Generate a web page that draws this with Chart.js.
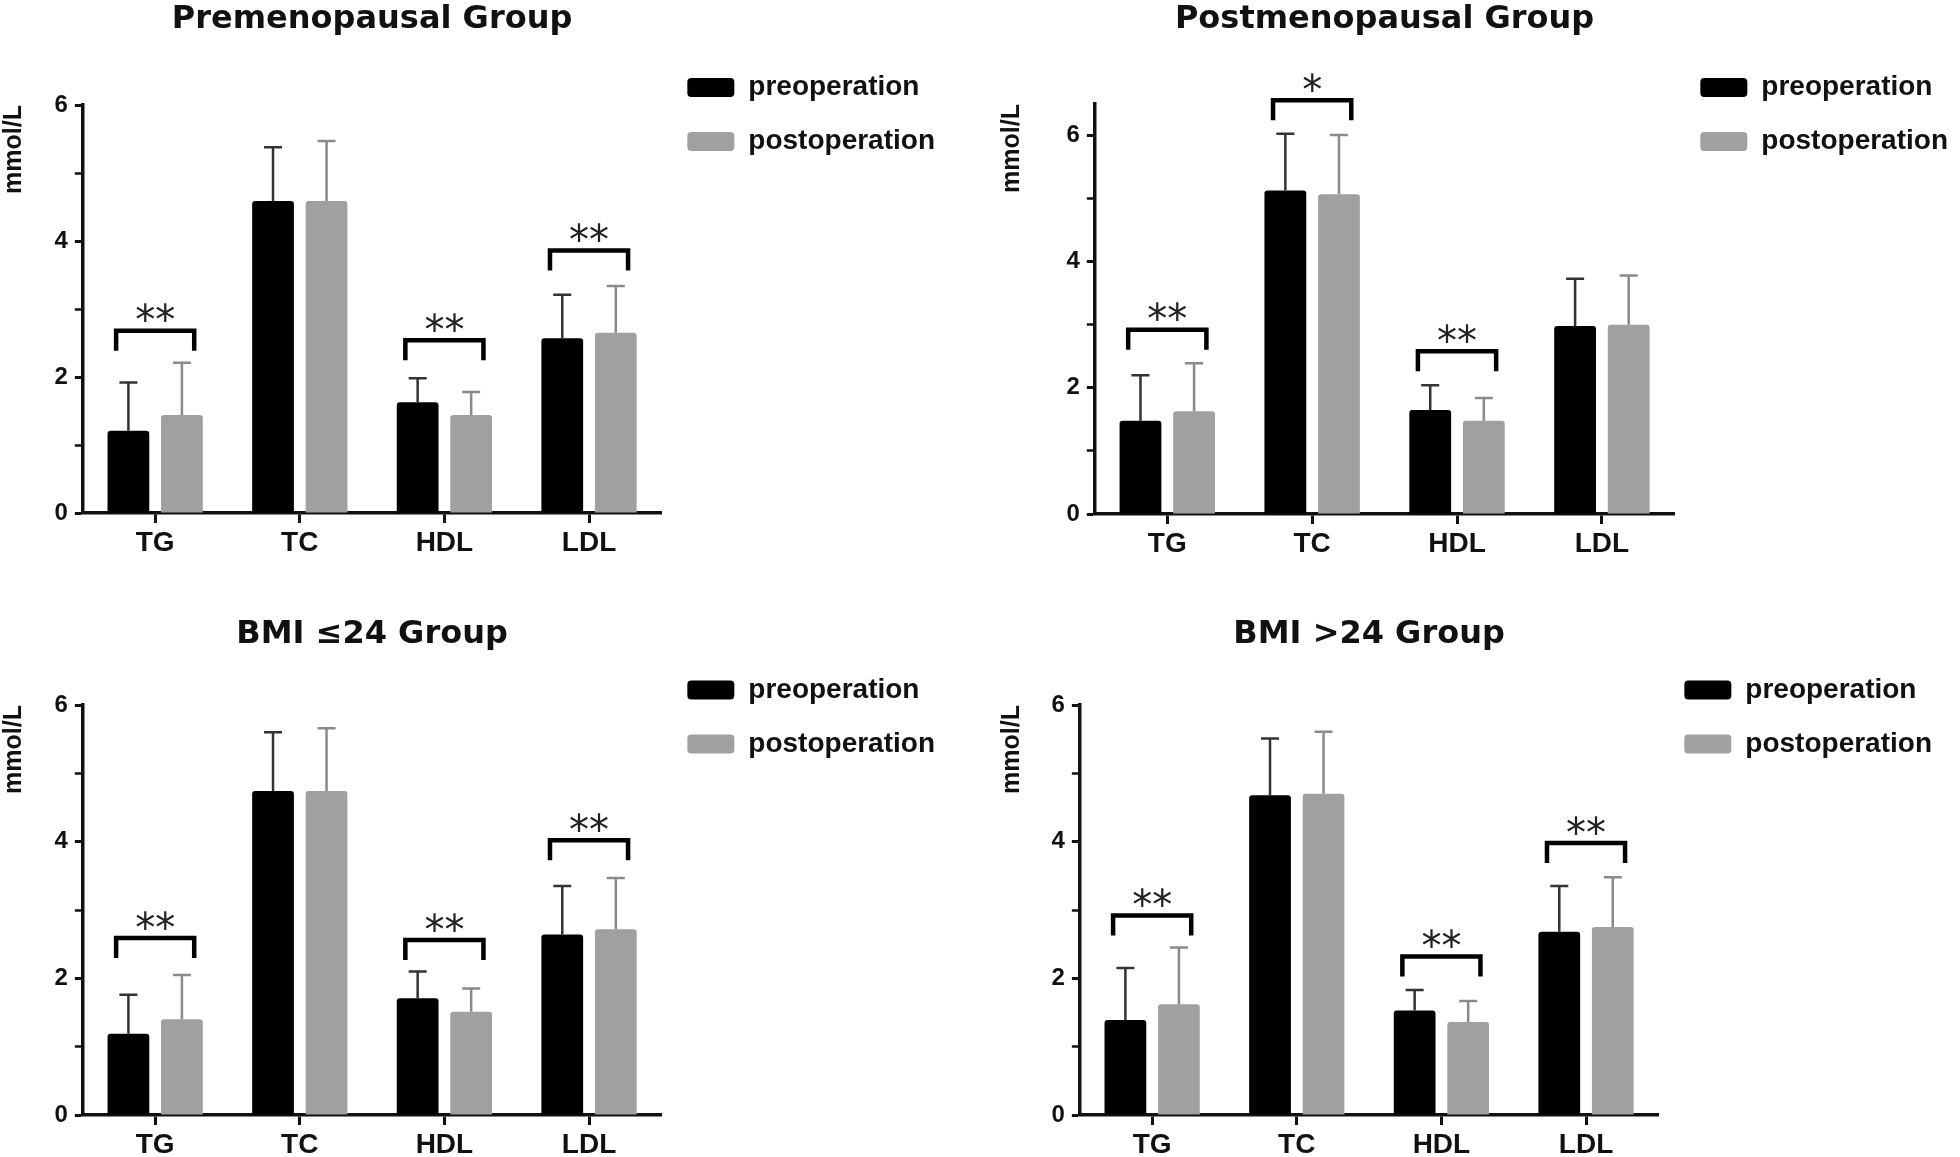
<!DOCTYPE html>
<html>
<head>
<meta charset="utf-8">
<script src="https://cdn.jsdelivr.net/npm/chart.js@4.4.1/dist/chart.umd.min.js"></script>
<style>
  html, body { margin: 0; padding: 0; background: #fff; overflow: hidden; }
  body { width: 1960px; height: 1157px; position: relative; }
  canvas { position: absolute; }
</style>
</head>
<body>
<canvas id="panelA" width="980" height="600" style="left:0;top:0"></canvas>
<canvas id="panelB" width="980" height="600" style="left:980px;top:0"></canvas>
<canvas id="panelC" width="980" height="600" style="left:0;top:578px"></canvas>
<canvas id="panelD" width="980" height="600" style="left:980px;top:578px"></canvas>
<script>
const categories = ['TG', 'TC', 'HDL', 'LDL'];
const seriesNames = ['preoperation', 'postoperation'];
const yTitle = 'mmol/L';

// Premenopausal Group
const preMeanA = [1.21, 4.59, 1.63, 2.57];
const preSdA = [0.71, 0.79, 0.35, 0.64];
const postMeanA = [1.44, 4.59, 1.44, 2.65];
const postSdA = [0.77, 0.88, 0.34, 0.69];
const marksA = ['**', '', '**', '**'];
const bracketA = [2.68, 0, 2.54, 3.86];

// Postmenopausal Group
const preMeanB = [1.48, 5.13, 1.65, 2.98];
const preSdB = [0.72, 0.90, 0.39, 0.75];
const postMeanB = [1.63, 5.07, 1.48, 3.00];
const postSdB = [0.76, 0.94, 0.36, 0.78];
const marksB = ['**', '*', '**', ''];
const bracketB = [2.92, 6.56, 2.58, 0];

// BMI <=24 Group
const preMeanC = [1.19, 4.74, 1.71, 2.64];
const preSdC = [0.57, 0.86, 0.39, 0.71];
const postMeanC = [1.40, 4.74, 1.51, 2.72];
const postSdC = [0.65, 0.92, 0.34, 0.75];
const marksC = ['**', '', '**', '**'];
const bracketC = [2.59, 0, 2.56, 4.02];

// BMI >24 Group
const preMeanD = [1.39, 4.68, 1.53, 2.68];
const preSdD = [0.76, 0.83, 0.30, 0.67];
const postMeanD = [1.62, 4.70, 1.36, 2.75];
const postSdD = [0.83, 0.91, 0.31, 0.73];
const marksD = ['**', '', '**', '**'];
const bracketD = [2.92, 0, 2.32, 3.98];

Chart.defaults.font.family = '"Liberation Sans", Arial, sans-serif';
Chart.defaults.color = '#111';

// error bars (mean + SD) and significance brackets
const annotate = {
    id: 'annotate',
    afterDatasetsDraw(chart, args, opts) {
        const ctx = chart.ctx;
        const xs = chart.scales.x;
        const ys = chart.scales.y;

        chart.data.datasets.forEach((ds, di) => {
            const meta = chart.getDatasetMeta(di);
            meta.data.forEach((bar, i) => {
                const top = ys.getPixelForValue(ds.data[i] + ds.sd[i]);
                ctx.save();
                ctx.strokeStyle = ds.whiskerColor;
                ctx.lineWidth = 2.5;
                ctx.beginPath();
                ctx.moveTo(bar.x, bar.y);
                ctx.lineTo(bar.x, top);
                ctx.moveTo(bar.x - 9, top);
                ctx.lineTo(bar.x + 9, top);
                ctx.stroke();
                ctx.restore();
            });
        });

        const half = xs.width / categories.length * 0.27;
        opts.marks.forEach((m, i) => {
            if (!m) return;
            const cx = xs.getPixelForValue(i);
            const yb = ys.getPixelForValue(opts.levels[i]);
            ctx.save();
            ctx.strokeStyle = '#000';
            ctx.lineWidth = 4.5;
            ctx.lineJoin = 'miter';
            ctx.beginPath();
            ctx.moveTo(cx - half, yb + 20);
            ctx.lineTo(cx - half, yb);
            ctx.lineTo(cx + half, yb);
            ctx.lineTo(cx + half, yb + 20);
            ctx.stroke();

            ctx.font = '40px "DejaVu Sans"';
            ctx.fillStyle = '#222';
            ctx.textAlign = 'center';
            ctx.textBaseline = 'alphabetic';
            const mt = ctx.measureText(m);
            const starMid = (mt.actualBoundingBoxAscent - mt.actualBoundingBoxDescent) / 2;
            ctx.fillText(m, cx, yb - 18 + starMid);
            ctx.restore();
        });
    }
};

function makePanel(id, title, preMean, preSd, postMean, postSd, marks, levels, setup) {
    const ctx = document.getElementById(id).getContext('2d');
    return new Chart(ctx, {
        type: 'bar',
        data: {
            labels: categories,
            datasets: [{
                label: seriesNames[0],
                data: preMean,
                sd: preSd,
                whiskerColor: '#333',
                backgroundColor: '#000000',
                borderWidth: 0,
                borderRadius: 3
            }, {
                label: seriesNames[1],
                data: postMean,
                sd: postSd,
                whiskerColor: '#8a8a8a',
                backgroundColor: '#a0a0a0',
                borderWidth: 0,
                borderRadius: 3
            }]
        },
        options: {
            responsive: false,
            animation: false,
            categoryPercentage: 0.74,
            barPercentage: 0.78,
            layout: {
                padding: setup.padding
            },
            plugins: {
                tooltip: { enabled: false },
                title: {
                    display: true,
                    text: title,
                    fullSize: false,
                    color: '#111',
                    font: { family: '"DejaVu Sans"', size: 32, weight: 'bold', lineHeight: 1 },
                    padding: setup.titlePad
                },
                legend: {
                    position: 'right',
                    align: 'start',
                    fullSize: true,
                    maxWidth: 400,
                    title: {
                        display: true,
                        text: ' ',
                        font: { size: 10, lineHeight: 1 },
                        padding: { top: setup.legendTop, bottom: 0 }
                    },
                    labels: {
                        boxWidth: 47,
                        boxHeight: 19,
                        padding: 26,
                        useBorderRadius: true,
                        borderRadius: 4,
                        color: '#111',
                        font: { size: 28, weight: 'bold', lineHeight: 1 }
                    }
                },
                annotate: {
                    marks: marks,
                    levels: levels
                }
            },
            scales: {
                x: {
                    grid: {
                        display: true,
                        drawOnChartArea: false,
                        drawTicks: true,
                        offset: false,
                        tickLength: 10,
                        tickWidth: 3,
                        tickColor: '#111'
                    },
                    border: { display: true, color: '#111', width: 3.5 },
                    ticks: {
                        padding: 6,
                        color: '#111',
                        font: { size: 28, weight: 'bold', lineHeight: 1 }
                    }
                },
                y: {
                    min: 0,
                    max: setup.yMax,
                    grid: {
                        display: true,
                        drawOnChartArea: false,
                        drawTicks: true,
                        tickLength: 8,
                        tickWidth: c => (c.tick && c.tick.value % 2 === 0) ? 3 : 2.5,
                        tickColor: '#111'
                    },
                    border: { display: true, color: '#111', width: 3.5 },
                    ticks: {
                        stepSize: 1,
                        includeBounds: false,
                        autoSkip: false,
                        padding: 7,
                        color: '#111',
                        font: { size: 24, weight: 'bold', lineHeight: 1 },
                        callback: v => (v % 2 === 0 ? v : '')
                    },
                    title: {
                        display: true,
                        text: yTitle,
                        align: 'end',
                        color: '#111',
                        font: { size: 25, weight: 'bold', lineHeight: 1.1 },
                        padding: { top: 0, bottom: setup.yTitlePad }
                    }
                }
            }
        },
        plugins: [annotate]
    });
}

makePanel('panelA', 'Premenopausal Group', preMeanA, preSdA, postMeanA, postSdA, marksA, bracketA, {
    padding: { left: 0, right: 35, top: 0, bottom: 37 },
    titlePad: { top: 3.5, bottom: 69.5 },
    legendTop: 37.5,
    yTitlePad: 20,
    yMax: 6
});

makePanel('panelB', 'Postmenopausal Group', preMeanB, preSdB, postMeanB, postSdB, marksB, bracketB, {
    padding: { left: 18, right: 2, top: 0, bottom: 36 },
    titlePad: { top: 3.5, bottom: 68.5 },
    legendTop: 37.5,
    yTitlePad: 34,
    yMax: 6.5
});

makePanel('panelC', 'BMI \u226424 Group', preMeanC, preSdC, postMeanC, postSdC, marksC, bracketC, {
    padding: { left: 0, right: 35, top: 0, bottom: 13 },
    titlePad: { top: 41, bottom: 54 },
    legendTop: 62,
    yTitlePad: 20,
    yMax: 6
});

makePanel('panelD', 'BMI >24 Group', preMeanD, preSdD, postMeanD, postSdD, marksD, bracketD, {
    padding: { left: 18, right: 18, top: 0, bottom: 13 },
    titlePad: { top: 41, bottom: 54 },
    legendTop: 62,
    yTitlePad: 19,
    yMax: 6
});
</script>
</body>
</html>
